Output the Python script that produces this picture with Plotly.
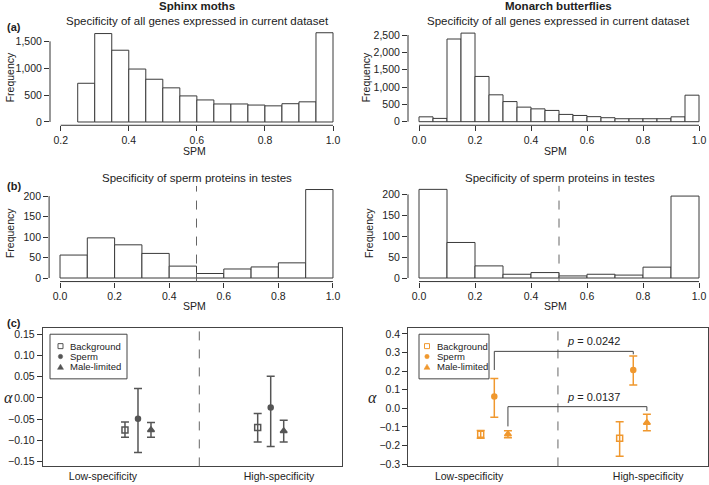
import plotly.graph_objects as go

W, H = 709, 485
FONT = "Liberation Sans, Arial, sans-serif"
TXT = "#222222"
AX = "#333333"
GRAY = "#555555"
ORANGE = "#F0982E"

# ---------------- data ----------------
# (a) all genes, SPM histograms
sphinx_all_bin_left = [0.25, 0.30, 0.35, 0.40, 0.45, 0.50, 0.55, 0.60, 0.65, 0.70, 0.75, 0.80, 0.85, 0.90, 0.95]
sphinx_all_counts = [720, 1645, 1335, 985, 795, 635, 485, 410, 335, 335, 315, 300, 340, 375, 1660]
monarch_all_bin_left = [0.00, 0.05, 0.10, 0.15, 0.20, 0.25, 0.30, 0.35, 0.40, 0.45,
                        0.50, 0.55, 0.60, 0.65, 0.70, 0.75, 0.80, 0.85, 0.90, 0.95]
monarch_all_counts = [140, 95, 2385, 2555, 1305, 775, 580, 420, 370, 325,
                      210, 180, 145, 115, 85, 85, 85, 85, 140, 765]
all_bin_width = 0.05

# (b) sperm proteins in testes
sperm_bin_left = [0.0, 0.1, 0.2, 0.3, 0.4, 0.5, 0.6, 0.7, 0.8, 0.9]
sphinx_sperm_counts = [56, 98, 81, 60, 29, 11, 22, 27, 37, 216]
monarch_sperm_counts = [212, 85, 29, 9, 13, 5, 9, 7, 26, 196]
sperm_bin_width = 0.1
spm_cutoff = 0.5

# (c) alpha estimates: [Low-specificity, High-specificity]
groups = ["Low-specificity", "High-specificity"]
series = ["Background", "Sperm", "Male-limited"]
sphinx_alpha = {
    "Background":   [-0.076, -0.070],
    "Sperm":        [-0.049, -0.023],
    "Male-limited": [-0.076, -0.078],
}
sphinx_lower = {
    "Background":   [-0.093, -0.104],
    "Sperm":        [-0.129, -0.115],
    "Male-limited": [-0.093, -0.104],
}
sphinx_upper = {
    "Background":   [-0.057, -0.037],
    "Sperm":        [0.022, 0.051],
    "Male-limited": [-0.058, -0.053],
}
monarch_alpha = {
    "Background":   [-0.139, -0.161],
    "Sperm":        [0.064, 0.206],
    "Male-limited": [-0.139, -0.077],
}
monarch_lower = {
    "Background":   [-0.160, -0.257],
    "Sperm":        [-0.048, 0.126],
    "Male-limited": [-0.158, -0.121],
}
monarch_upper = {
    "Background":   [-0.119, -0.072],
    "Sperm":        [0.160, 0.281],
    "Male-limited": [-0.121, -0.032],
}
# significance brackets (monarch): series, bracket level, left leg end, right leg end, label, label y
brackets = [
    ("Sperm", 0.306, 0.206, 0.290, "<i>p</i> = 0.0242", 0.360),
    ("Male-limited", 0.009, -0.097, -0.014, "<i>p</i> = 0.0137", 0.061),
]

# tick values / labels
a_left_xticks = [0.2, 0.4, 0.6, 0.8, 1.0]
a_left_xlabels = ["0.2", "0.4", "0.6", "0.8", "1.0"]
a_left_yticks = [0, 500, 1000, 1500]
a_left_ylabels = ["0", "500", "1,000", "1,500"]
unit_xticks = [0.0, 0.2, 0.4, 0.6, 0.8, 1.0]
unit_xlabels = ["0.0", "0.2", "0.4", "0.6", "0.8", "1.0"]
a_right_yticks = [0, 500, 1000, 1500, 2000, 2500]
a_right_ylabels = ["0", "500", "1,000", "1,500", "2,000", "2,500"]
b_yticks = [0, 50, 100, 150, 200]
b_ylabels = ["0", "50", "100", "150", "200"]
c_left_yticks = [-0.15, -0.10, -0.05, 0.00, 0.05, 0.10, 0.15]
c_left_ylabels = ["\u22120.15", "\u22120.10", "\u22120.05", "0.00", "0.05", "0.10", "0.15"]
c_right_yticks = [-0.3, -0.2, -0.1, 0.0, 0.1, 0.2, 0.3, 0.4]
c_right_ylabels = ["\u22120.3", "\u22120.2", "\u22120.1", "0.0", "0.1", "0.2", "0.3", "0.4"]

# ---------------- layout helpers ----------------
def fx(p):
    return p / W


def fy(p):
    return 1 - p / H


# pixel boxes: (x0, x1), (ytop, ybottom)
boxes = {
    1: ((50, 344), (28, 125.3)),
    2: ((408, 709), (28.7, 125.3)),
    3: ((49.1, 343.9), (186.5, 282.9)),
    4: ((408, 709), (186.4, 282.9)),
    5: ((42.7, 341.7), (330, 469.3)),
    6: ((408.3, 708.3), (330, 469.3)),
}
xranges = {1: [0.1686, 1.0323], 2: [-0.0393, 1.0357], 3: [-0.04, 1.04],
           4: [-0.0393, 1.0357], 5: [0.282, 2.535], 6: [0.381, 2.54]}
yranges = {1: [-61, 1734], 2: [-103, 2660], 3: [-8.7, 224.7],
           4: [-8.5, 220.4], 5: [-0.1617, 0.164], 6: [-0.312, 0.430]}

fig = go.Figure()

def bar_trace(lefts, counts, bw, i):
    return go.Bar(
        x=[l + bw / 2 for l in lefts], y=counts, width=bw,
        marker=dict(color="white", line=dict(color="#3a3a3a", width=1)),
        xaxis="x" if i == 1 else f"x{i}", yaxis="y" if i == 1 else f"y{i}",
        showlegend=False, hoverinfo="skip",
    )

fig.add_trace(bar_trace(sphinx_all_bin_left, sphinx_all_counts, all_bin_width, 1))
fig.add_trace(bar_trace(monarch_all_bin_left, monarch_all_counts, all_bin_width, 2))
fig.add_trace(bar_trace(sperm_bin_left, sphinx_sperm_counts, sperm_bin_width, 3))
fig.add_trace(bar_trace(sperm_bin_left, monarch_sperm_counts, sperm_bin_width, 4))

offsets = {"Background": -0.098, "Sperm": 0.0, "Male-limited": 0.098}
symbols = {"Background": "square-open", "Sperm": "circle", "Male-limited": "triangle-up"}
msizes = {"Background": 6, "Sperm": 5, "Male-limited": 6}

def alpha_traces(vals, low, up, color, i):
    for s in series:
        xs = [g + 1 + offsets[s] for g in range(len(groups))]
        fig.add_trace(go.Scatter(
            x=xs, y=vals[s], mode="markers",
            marker=dict(symbol=symbols[s], size=msizes[s], color=color,
                        line=dict(color=color, width=1.5)),
            error_y=dict(type="data", symmetric=False,
                         array=[u - v for u, v in zip(up[s], vals[s])],
                         arrayminus=[v - l for v, l in zip(vals[s], low[s])],
                         color=color, thickness=1.5, width=4),
            xaxis=f"x{i}", yaxis=f"y{i}", showlegend=False, hoverinfo="skip",
        ))

alpha_traces(sphinx_alpha, sphinx_lower, sphinx_upper, GRAY, 5)
alpha_traces(monarch_alpha, monarch_lower, monarch_upper, ORANGE, 6)

layout = dict(
    width=W, height=H, margin=dict(l=0, r=0, t=0, b=0),
    paper_bgcolor="white", plot_bgcolor="white", showlegend=False,
    font=dict(family=FONT, size=10.5, color=TXT), bargap=0,
)

hist_ticks = {
    1: (a_left_xticks, a_left_xlabels, a_left_yticks, a_left_ylabels),
    2: (unit_xticks, unit_xlabels, a_right_yticks, a_right_ylabels),
    3: (unit_xticks, unit_xlabels, b_yticks, b_ylabels),
    4: (unit_xticks, unit_xlabels, b_yticks, b_ylabels),
}
shapes = []
annotations = []

for i in range(1, 7):
    (x0, x1), (yt, yb) = boxes[i]
    xk = "xaxis" if i == 1 else f"xaxis{i}"
    yk = "yaxis" if i == 1 else f"yaxis{i}"
    xa = "x" if i == 1 else f"x{i}"
    ya = "y" if i == 1 else f"y{i}"
    base_x = dict(domain=[fx(x0), fx(x1)], range=xranges[i], anchor=ya,
                  showgrid=False, zeroline=False, fixedrange=True,
                  tickfont=dict(size=10.5, color=TXT, family=FONT))
    base_y = dict(domain=[fy(yb), fy(yt)], range=yranges[i], anchor=xa,
                  showgrid=False, zeroline=False, fixedrange=True,
                  tickfont=dict(size=10.5, color=TXT, family=FONT))
    if i <= 4:
        xt, xl, ytv, yl = hist_ticks[i]
        base_x.update(showline=False, ticks="outside", ticklen=5, tickwidth=1,
                      tickcolor=AX, tickvals=xt, ticktext=xl)
        base_y.update(showline=False, ticks="outside", ticklen=5, tickwidth=1,
                      tickcolor=AX, tickvals=ytv, ticktext=yl)
        # R-style axis lines spanning only the tick range
        shapes.append(dict(type="line", xref=f"{xa} domain", yref=ya,
                           x0=0, x1=0, y0=min(ytv), y1=max(ytv),
                           line=dict(color=AX, width=1)))
        shapes.append(dict(type="line", xref=xa, yref=f"{ya} domain",
                           x0=min(xt), x1=max(xt), y0=0, y1=0,
                           line=dict(color=AX, width=1)))
    else:
        lab_pos = [0.736, 2.063] if i == 5 else [0.818, 2.107]
        ytv, yl = (c_left_yticks, c_left_ylabels) if i == 5 else (c_right_yticks, c_right_ylabels)
        base_x.update(showline=True, mirror=True, linecolor="#444444", linewidth=1,
                      ticks="", tickvals=lab_pos, ticktext=groups)
        base_y.update(showline=True, mirror=True, linecolor="#444444", linewidth=1,
                      ticks="outside", ticklen=5, tickwidth=1, tickcolor=AX,
                      tickvals=ytv, ticktext=yl)
    layout[xk] = base_x
    layout[yk] = base_y

# dashed SPM cutoff lines in (b)
for i in (3, 4):
    shapes.append(dict(type="line", xref=f"x{i}", yref=f"y{i} domain",
                       x0=spm_cutoff, x1=spm_cutoff, y0=0, y1=1,
                       line=dict(color="#666666", width=1, dash="dash")))
# dashed divider in (c)
for i, xdiv in ((5, 1.462), (6, 1.458)):
    shapes.append(dict(type="line", xref=f"x{i}", yref=f"y{i} domain",
                       x0=xdiv, x1=xdiv, y0=0, y1=1,
                       line=dict(color="#666666", width=1, dash="dash")))

# significance brackets
for s, level, lend, rend, label, ytxt in brackets:
    xl_ = 1 + offsets[s]
    xr_ = 2 + offsets[s]
    shapes.append(dict(type="path", xref="x6", yref="y6",
                       path=f"M{xl_},{lend} L{xl_},{level} L{xr_},{level} L{xr_},{rend}",
                       line=dict(color="#444444", width=1)))
    annotations.append(dict(xref="x6", yref="y6", x=1.51, y=ytxt, text=label,
                            showarrow=False, xanchor="left", yanchor="middle",
                            font=dict(size=11, color=TXT, family=FONT)))

# legends for (c)
for (bx0, bx1), color, sym_x, txt_x in (((50, 127), GRAY, 60.5, 67.5),
                                         ((419, 489), ORANGE, 427, 434.5)):
    shapes.append(dict(type="rect", xref="paper", yref="paper",
                       x0=fx(bx0), x1=fx(bx1), y0=fy(381), y1=fy(336),
                       line=dict(color="#444444", width=1), fillcolor="white"))
    for s, ypix in zip(series, (348, 358.5, 369)):
        common = dict(xref="paper", yref="paper", xsizemode="pixel", ysizemode="pixel",
                      xanchor=fx(sym_x), yanchor=fy(ypix))
        if s == "Background":
            shapes.append(dict(type="rect", x0=-2.5, x1=2.5, y0=-2.5, y1=2.5,
                               line=dict(color=color, width=1), fillcolor="white", **common))
        elif s == "Sperm":
            shapes.append(dict(type="circle", x0=-2.2, x1=2.2, y0=-2.2, y1=2.2,
                               line=dict(color=color, width=0.5), fillcolor=color, **common))
        else:
            shapes.append(dict(type="path", path="M-3,-2.4 L3,-2.4 L0,2.8 Z",
                               line=dict(color=color, width=0.5), fillcolor=color, **common))
        annotations.append(dict(xref="paper", yref="paper", x=fx(txt_x), y=fy(ypix),
                                text=s, showarrow=False, xanchor="left", yanchor="middle",
                                font=dict(size=9.5, color=TXT, family=FONT)))

def txt(xp, yp, text, size=10.5, bold=False, angle=0, family=FONT, xanchor="center"):
    annotations.append(dict(xref="paper", yref="paper", x=fx(xp), y=fy(yp),
                            text=f"<b>{text}</b>" if bold else text, showarrow=False,
                            xanchor=xanchor, yanchor="middle", textangle=angle,
                            font=dict(size=size, color=TXT, family=family)))

txt(197, 5.5, "Sphinx moths", size=11.5, bold=True)
txt(558.5, 5.5, "Monarch butterflies", size=11.5, bold=True)
txt(197, 20.5, "Specificity of all genes expressed in current dataset", size=11.5)
txt(558.5, 20.5, "Specificity of all genes expressed in current dataset", size=11.5)
txt(197, 178.5, "Specificity of sperm proteins in testes", size=11.5)
txt(560, 178.5, "Specificity of sperm proteins in testes", size=11.5)
txt(14, 26, "(a)", size=11, bold=True)
txt(14, 186.5, "(b)", size=11, bold=True)
txt(14, 325, "(c)", size=11, bold=True)
txt(10, 77, "Frequency", angle=-90)
txt(366, 77, "Frequency", angle=-90)
txt(10, 234, "Frequency", angle=-90)
txt(369, 234, "Frequency", angle=-90)
txt(194, 151.5, "SPM")
txt(555, 151.5, "SPM")
txt(194, 307.5, "SPM")
txt(555, 307.5, "SPM")
txt(8, 400, "<i>\u03b1</i>", size=16, family="Liberation Serif, serif")
txt(373, 400, "<i>\u03b1</i>", size=16, family="Liberation Serif, serif")

layout["shapes"] = shapes
layout["annotations"] = annotations
fig.update_layout(**layout)
fig.write_html(
    "out.html",
    config={"displayModeBar": False, "staticPlot": True},
    post_script="document.body.style.margin='0';document.body.style.padding='0';"
                "document.body.style.overflow='hidden';",
)
